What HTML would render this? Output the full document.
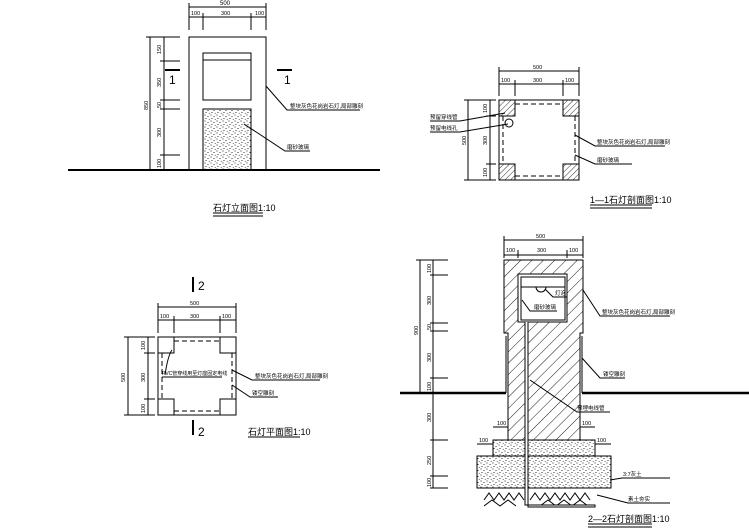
<!DOCTYPE html>
<html><head><meta charset="utf-8"><style>
html,body{margin:0;padding:0;background:#fff;width:749px;height:530px;overflow:hidden}
svg{display:block}
text{font-family:"Liberation Sans","Noto Sans CJK SC",sans-serif;fill:#000}
</style></head><body>
<svg width="749" height="530" viewBox="0 0 749 530" xmlns="http://www.w3.org/2000/svg">
<defs>
<pattern id="h" width="8" height="8" patternUnits="userSpaceOnUse" patternTransform="rotate(45)">
<line x1="0" y1="0" x2="0" y2="8" stroke="#000" stroke-width="0.9"/></pattern>
<pattern id="h2" width="4" height="4" patternUnits="userSpaceOnUse" patternTransform="rotate(45)">
<line x1="0" y1="0" x2="0" y2="4" stroke="#000" stroke-width="0.8"/></pattern>
<pattern id="d" width="6" height="6" patternUnits="userSpaceOnUse">
<circle cx="1" cy="1" r="0.55"/><circle cx="4" cy="2.5" r="0.55"/><circle cx="2" cy="4.5" r="0.55"/><circle cx="5.2" cy="5.3" r="0.45"/></pattern>
</defs>
<g fill="none" stroke="#000" stroke-width="1">
<!-- ELEVATION -->
<rect x="189" y="37" width="77" height="133"/>
<rect x="203" y="53" width="48" height="47"/>
<line x1="203" y1="60" x2="251" y2="60"/>
<rect x="203" y="109" width="48" height="61" fill="url(#d)"/>
<line x1="68" y1="170" x2="380" y2="170" stroke-width="2"/>
<line x1="189" y1="7" x2="266" y2="7"/><line x1="189" y1="17" x2="266" y2="17"/>
<line x1="189" y1="3" x2="189" y2="30"/><line x1="203" y1="13" x2="203" y2="30"/><line x1="251" y1="13" x2="251" y2="30"/><line x1="266" y1="3" x2="266" y2="30"/>
<line x1="150" y1="37" x2="150" y2="170"/><line x1="164" y1="37" x2="164" y2="170"/>
<line x1="146" y1="37" x2="180" y2="37"/><line x1="160" y1="61" x2="180" y2="61"/><line x1="160" y1="100" x2="180" y2="100"/><line x1="160" y1="109" x2="180" y2="109"/><line x1="160" y1="155" x2="180" y2="155"/>
<line x1="165" y1="70" x2="180" y2="70" stroke-width="2"/><line x1="277" y1="70" x2="292" y2="70" stroke-width="2"/>
<polyline points="266,86 287,110 360,110"/>
<polyline points="244,124 285,151 310,151"/>
<line x1="213" y1="213" x2="263" y2="213"/><line x1="213" y1="216" x2="263" y2="216"/>
<!-- 1-1 SECTION -->
<rect x="499" y="100" width="80" height="80"/>
<rect x="499" y="100" width="16" height="16" fill="url(#h2)"/><rect x="563" y="100" width="16" height="16" fill="url(#h2)"/>
<rect x="499" y="164" width="16" height="16" fill="url(#h2)"/><rect x="563" y="164" width="16" height="16" fill="url(#h2)"/>
<g stroke-dasharray="5,3"><line x1="503" y1="116" x2="503" y2="164"/><line x1="575" y1="116" x2="575" y2="164"/><line x1="515" y1="104" x2="563" y2="104"/><line x1="515" y1="176" x2="563" y2="176"/></g>
<circle cx="509" cy="123" r="4"/>
<line x1="499" y1="71" x2="579" y2="71"/><line x1="499" y1="84" x2="579" y2="84"/>
<line x1="499" y1="67" x2="499" y2="96"/><line x1="515" y1="80" x2="515" y2="96"/><line x1="563" y1="80" x2="563" y2="96"/><line x1="579" y1="67" x2="579" y2="96"/>
<line x1="468" y1="100" x2="468" y2="180"/><line x1="490" y1="100" x2="490" y2="180"/>
<line x1="464" y1="100" x2="496" y2="100"/><line x1="486" y1="116" x2="496" y2="116"/><line x1="486" y1="164" x2="496" y2="164"/><line x1="464" y1="180" x2="496" y2="180"/>
<polyline points="430,121 460,121 505,113"/><polyline points="430,132 460,132 508,124"/>
<polyline points="575,135 595,146 665,146"/><polyline points="575,155 595,164 632,164"/>
<line x1="590" y1="205" x2="652" y2="205"/><line x1="590" y1="208" x2="652" y2="208"/>
<!-- PLAN -->
<rect x="158" y="337" width="78" height="78"/>
<rect x="158" y="337" width="16" height="16"/><rect x="220" y="337" width="16" height="16"/>
<rect x="158" y="399" width="16" height="16"/><rect x="220" y="399" width="16" height="16"/>
<g stroke-dasharray="5,3"><line x1="174" y1="341" x2="220" y2="341"/><line x1="174" y1="411" x2="220" y2="411"/><line x1="162" y1="353" x2="162" y2="399"/><line x1="232" y1="353" x2="232" y2="399"/></g>
<path d="M165 375 Q168 355 172 350"/>
<line x1="193" y1="277" x2="193" y2="292" stroke-width="2"/><line x1="193" y1="420" x2="193" y2="435" stroke-width="2"/>
<line x1="158" y1="307" x2="236" y2="307"/><line x1="158" y1="320" x2="236" y2="320"/>
<line x1="158" y1="303" x2="158" y2="333"/><line x1="174" y1="316" x2="174" y2="333"/><line x1="220" y1="316" x2="220" y2="333"/><line x1="236" y1="303" x2="236" y2="333"/>
<line x1="128" y1="337" x2="128" y2="415"/><line x1="148" y1="337" x2="148" y2="415"/>
<line x1="124" y1="337" x2="155" y2="337"/><line x1="144" y1="353" x2="155" y2="353"/><line x1="144" y1="399" x2="155" y2="399"/><line x1="124" y1="415" x2="155" y2="415"/>
<line x1="162" y1="377" x2="222" y2="377"/>
<polyline points="232,370 252,380 320,380"/><polyline points="232,385 250,397 278,397"/>
<line x1="248" y1="437" x2="300" y2="437"/>
<!-- 2-2 SECTION -->
<path d="M504 260 H583 V333 H580 V440 H508 V333 H504 Z" fill="url(#h)"/>
<rect x="518" y="274" width="49" height="48" fill="#fff"/>
<rect x="521" y="277" width="44" height="43"/>
<line x1="521" y1="287" x2="565" y2="287"/>
<path d="M536 287 A5 5 0 0 0 546 287"/>
<line x1="506" y1="336" x2="506" y2="393"/><line x1="582" y1="336" x2="582" y2="393"/>
<line x1="400" y1="393" x2="506" y2="393" stroke-width="2.5"/><line x1="582" y1="393" x2="749" y2="393" stroke-width="2.5"/>
<rect x="493" y="440" width="102" height="16" fill="url(#d)"/>
<rect x="477" y="456" width="134" height="32" fill="url(#d)"/>
<path d="M484 500 l5 -7 l5 7 l5 -7 l5 7 l5 -7 l5 7 l5 -7 l5 7 M530 500 l5 -7 l5 7 l5 -7 l5 7 l5 -7 l5 7 l5 -7 l5 7 l5 -7 l5 7 l5 -7 l5 7 M484 506 l8 -6 l8 6 l8 -6 l8 6 M540 506 l8 -6 l8 6 l8 -6 l8 6 l8 -6 l8 6"/>
<path d="M525 322 V505 H595 V507 H528 V322" fill="#fff"/>
<line x1="504" y1="240" x2="583" y2="240"/><line x1="504" y1="255" x2="583" y2="255"/>
<line x1="504" y1="236" x2="504" y2="258"/><line x1="518" y1="250" x2="518" y2="258"/><line x1="567" y1="250" x2="567" y2="258"/><line x1="583" y1="236" x2="583" y2="258"/>
<line x1="420" y1="260" x2="420" y2="393"/><line x1="433" y1="260" x2="433" y2="488"/>
<line x1="416" y1="260" x2="448" y2="260"/><line x1="430" y1="275" x2="448" y2="275"/><line x1="430" y1="323" x2="448" y2="323"/><line x1="430" y1="331" x2="448" y2="331"/><line x1="430" y1="378" x2="448" y2="378"/><line x1="430" y1="440" x2="448" y2="440"/><line x1="430" y1="476" x2="448" y2="476"/><line x1="430" y1="488" x2="448" y2="488"/>
<line x1="493" y1="427" x2="508" y2="427"/><line x1="580" y1="427" x2="595" y2="427"/>
<line x1="477" y1="444" x2="493" y2="444"/><line x1="595" y1="444" x2="611" y2="444"/>
<polyline points="545,289 553,297 567,297"/><polyline points="522,300 530,311 557,311"/>
<polyline points="583,290 600,316 670,316"/><polyline points="582,358 600,378 625,378"/>
<polyline points="530,380 577,412 610,412"/><polyline points="610,480 622,478 670,478"/><polyline points="597,495 628,503 670,503"/>
<line x1="588" y1="524" x2="652" y2="524"/><line x1="588" y1="527" x2="652" y2="527"/>
</g>
<g font-size="5.5">
<text x="220" y="5" font-size="6">500</text><text x="191" y="15">100</text><text x="221" y="15">300</text><text x="255" y="15">100</text>
<text x="169" y="84" font-size="12">1</text><text x="284" y="84" font-size="12">1</text>
<g font-size="5.5">
<text transform="translate(161,54) rotate(-90)">150</text>
<text transform="translate(161,87) rotate(-90)">350</text>
<text transform="translate(161,108) rotate(-90)">50</text>
<text transform="translate(161,137) rotate(-90)">300</text>
<text transform="translate(161,168) rotate(-90)">100</text>
<text transform="translate(148,110) rotate(-90)">850</text>
<text transform="translate(487,113) rotate(-90)">100</text>
<text transform="translate(487,145) rotate(-90)">300</text>
<text transform="translate(487,177) rotate(-90)">100</text>
<text transform="translate(466,145) rotate(-90)">500</text>
<text transform="translate(145,350) rotate(-90)">100</text>
<text transform="translate(145,382) rotate(-90)">300</text>
<text transform="translate(145,413) rotate(-90)">100</text>
<text transform="translate(125,382) rotate(-90)">500</text>
<text transform="translate(431,273) rotate(-90)">100</text>
<text transform="translate(431,305) rotate(-90)">300</text>
<text transform="translate(431,330) rotate(-90)">50</text>
<text transform="translate(431,362) rotate(-90)">300</text>
<text transform="translate(431,391) rotate(-90)">100</text>
<text transform="translate(431,422) rotate(-90)">300</text>
<text transform="translate(431,465) rotate(-90)">250</text>
<text transform="translate(431,487) rotate(-90)">100</text>
<text transform="translate(418,335) rotate(-90)">900</text>
</g>
<text x="290" y="108">整块灰色花岗岩石灯,局部雕刻</text><text x="287" y="149">磨砂玻璃</text>
<text x="213" y="211" font-size="9">石灯立面图1:10</text>
<text x="533" y="69">500</text><text x="501" y="82">100</text><text x="533" y="82">300</text><text x="565" y="82">100</text>
<text x="430" y="119">预留穿线管</text><text x="430" y="130">预留电线孔</text>
<text x="597" y="144">整块灰色花岗岩石灯,局部雕刻</text><text x="597" y="162">磨砂玻璃</text>
<text x="590" y="203" font-size="9">1—1石灯剖面图1:10</text>
<text x="198" y="290" font-size="12">2</text><text x="198" y="436" font-size="12">2</text>
<text x="190" y="305">500</text><text x="160" y="318">100</text><text x="190" y="318">300</text><text x="222" y="318">100</text>
<text x="162" y="375" font-size="5">PVC管穿线用至灯座固定电线</text>
<text x="255" y="378">整块灰色花岗岩石灯,局部雕刻</text><text x="252" y="395">镂空雕刻</text>
<text x="248" y="435" font-size="9">石灯平面图1:10</text>
<text x="536" y="238">500</text><text x="506" y="252">100</text><text x="537" y="252">300</text><text x="569" y="252">100</text>
<text x="555" y="295">灯泡</text><text x="534" y="309">磨砂玻璃</text>
<text x="602" y="314">整块灰色花岗岩石灯,局部雕刻</text><text x="603" y="376">镂空雕刻</text>
<text x="577" y="410">预埋电线管</text><text x="623" y="476">3:7灰土</text><text x="628" y="501">素土夯实</text>
<text x="497" y="425">100</text><text x="582" y="425">100</text><text x="479" y="442">100</text><text x="597" y="442">100</text>
<text x="588" y="522" font-size="9">2—2石灯剖面图1:10</text>
</g>
</svg>
</body></html>
